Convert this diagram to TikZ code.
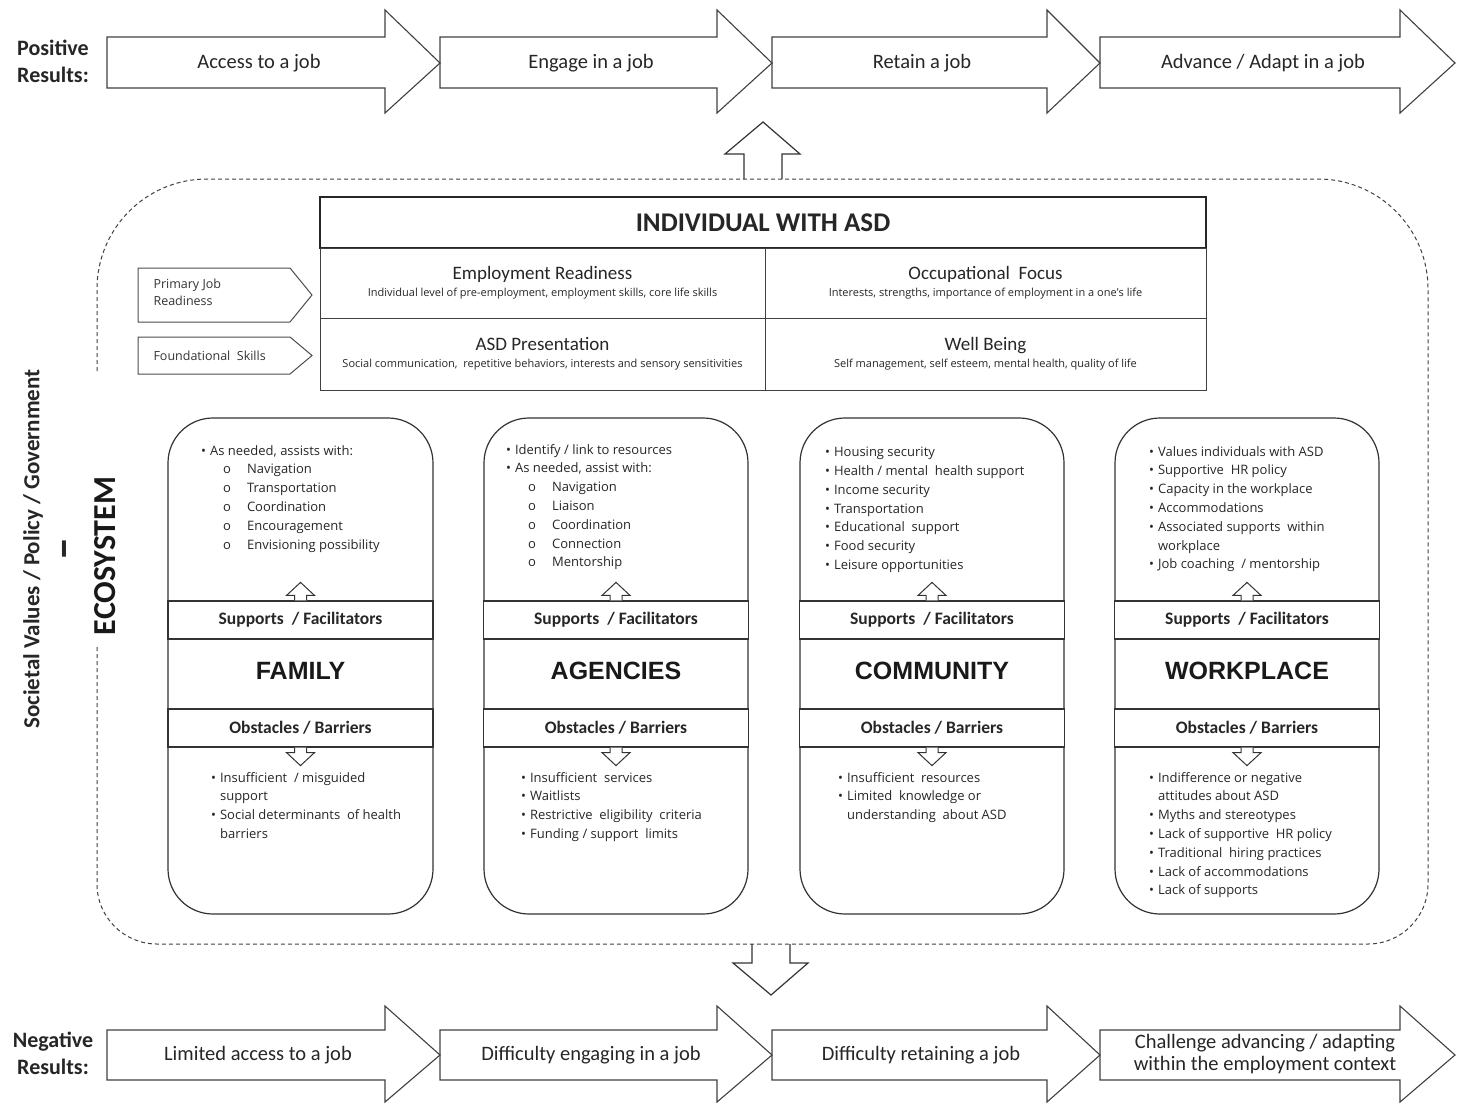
\documentclass[tikz,border=0pt]{standalone}
\usepackage{fontspec}
\setmainfont{Carlito}
\newfontfamily\arialfont{Liberation Sans}
\newfontfamily\smallfont{Open Sans}
\newcommand{\bl}{\textbullet\hspace{4pt}}
\newcommand{\ol}[1]{\hspace*{22pt}o\hspace{16pt}#1}
\newcommand{\hang}{\phantom{\textbullet}\hspace{4pt}}
\begin{document}
\begin{tikzpicture}[x=1pt,y=-1pt,
  resarrow/.style={draw=black!75,line width=1.1pt,line join=miter},
  reslabel/.style={font=\fontsize{20.5}{22}\selectfont,align=center,text=black!85},
  sidelabel/.style={font=\fontsize{22}{27}\selectfont\bfseries,align=center,text=black!85},
  bigarrow/.style={draw=black!80,line width=1.2pt},
  ecoline/.style={draw=black!75,line width=1pt,dash pattern=on 4pt off 3pt},
  cell/.style={draw=black!75,line width=1pt,align=center,inner sep=0pt,font=\fontsize{19}{21}\selectfont,text=black!85},
  skillbox/.style={draw=black!70,line width=1pt},
  skilltext/.style={font=\smallfont\fontsize{12.5}{17}\selectfont,align=left,anchor=west,text=black!80},
  colbox/.style={draw=black!80,line width=1.2pt,rounded corners=45pt},
  band/.style={draw=black!80,line width=1.2pt,fill=white,minimum width=265pt,minimum height=38pt,font=\fontsize{17.5}{19}\selectfont\bfseries,text=black!85},
  groupname/.style={font=\arialfont\fontsize{25}{27}\selectfont\bfseries,text=black!90},
  listtext/.style={font=\smallfont\fontsize{13}{18.8}\selectfont,align=left,anchor=north west,inner sep=0pt,text=black!85},
  tinyarrow/.style={draw=black!80,line width=1pt,fill=white}]
\useasboundingbox (0,0) rectangle (1458,1103);

% positive results
\node[sidelabel] (pos) at (53,61) {Positive\\Results:};
\draw[resarrow] (107,37) -- (385,37) -- (385,10) -- (440,63) -- (385,113) -- (385,88) -- (107,88) -- cycle;
\draw[resarrow] (440,37) -- (717,37) -- (717,10) -- (772,63) -- (717,113) -- (717,88) -- (440,88) -- cycle;
\draw[resarrow] (772,37) -- (1047,37) -- (1047,10) -- (1100,63) -- (1047,113) -- (1047,88) -- (772,88) -- cycle;
\draw[resarrow] (1100,37) -- (1400,37) -- (1400,10) -- (1455,63) -- (1400,113) -- (1400,88) -- (1100,88) -- cycle;
\node[reslabel] (access) at (259,63) {Access to a job};
\node[reslabel] (engage) at (591,63) {Engage in a job};
\node[reslabel] (retain) at (922,63) {Retain a job};
\node[reslabel] (advance) at (1263,63) {Advance / Adapt in a job};

% ecosystem frame
\draw[bigarrow] (744,179) -- (744,154) -- (725,154) -- (763,122) -- (800,154) -- (782,154) -- (782,179);
\draw[ecoline] (97,560) [rounded corners=110pt] -- (97,179) -- (1428,179) -- (1428,600)
  [rounded corners=60pt] -- (1428,944) -- (97,944) -- (97,560);
\draw[bigarrow] (752,944) -- (752,963) -- (733,963) -- (771,995) -- (808,963) -- (790,963) -- (790,944);
\node[rotate=90,font=\fontsize{23}{25}\selectfont\bfseries,text=black!85] (values) at (33,549) {Societal Values / Policy / Government};
\node[rotate=90,font=\fontsize{46}{46}\selectfont\bfseries,text=black!85] (dash) at (70,549) {--};
\node[rotate=90,fill=white,font=\fontsize{32}{34}\selectfont\bfseries,text=black!90,
  text width=250pt,align=left,inner xsep=12pt,inner ysep=3pt] (eco) at (105,510) {ECOSYSTEM};

% individual with ASD
\node[draw=black!85,line width=1.6pt,minimum width=886pt,minimum height=51pt,
  font=\fontsize{27}{29}\selectfont\bfseries,text=black!85] (indiv) at (763,222.5) {INDIVIDUAL WITH ASD};
\node[cell,minimum width=445pt,minimum height=70pt] (ready) at (542.5,283)
  {Employment Readiness\\[-4pt]{\smallfont\fontsize{11}{12}\selectfont Individual level of pre-employment, employment skills, core life skills}};
\node[cell,minimum width=441pt,minimum height=70pt] (focus) at (985.5,283)
  {Occupational\ \ Focus\\[-4pt]{\smallfont\fontsize{11}{12}\selectfont Interests, strengths, importance of employment in a one's life}};
\node[cell,minimum width=445pt,minimum height=72pt] (asd) at (542.5,354)
  {ASD Presentation\\[-4pt]{\smallfont\fontsize{11}{12}\selectfont Social communication,\ \ repetitive behaviors, interests and sensory sensitivities}};
\node[cell,minimum width=441pt,minimum height=72pt] (wellbeing) at (985.5,354)
  {Well Being\\[-4pt]{\smallfont\fontsize{11}{12}\selectfont Self management, self esteem, mental health, quality of life}};
\draw[skillbox] (138,268) -- (290,268) -- (312,295) -- (290,322) -- (138,322) -- cycle;
\node[skilltext] (primary) at (150,292) {Primary Job\\Readiness};
\draw[skillbox] (138,337) -- (290,337) -- (312,355.5) -- (290,374) -- (138,374) -- cycle;
\node[skilltext] (foundation) at (150,355.5) {Foundational\ \ Skills};

% family
\draw[colbox] (168,418) rectangle (433,914);
\node[band] (famsup) at (300.5,620) {Supports\ \ / Facilitators};
\node[groupname] (family) at (300.5,671) {FAMILY};
\node[band] (famobs) at (300.5,728) {Obstacles / Barriers};
\filldraw[tinyarrow] ([xshift=-6pt]famsup.north) -- ++(0,-5) -- ++(-8,0) -- ++(14,-13) -- ++(14,13) -- ++(-8,0) -- ++(0,5);
\filldraw[tinyarrow] ([xshift=-6pt]famobs.south) -- ++(0,5) -- ++(-8,0) -- ++(14,13) -- ++(14,-13) -- ++(-8,0) -- ++(0,-5);
\node[listtext] (famlist) at (201,445) {\bl As needed, assists with:\\\ol{Navigation}\\\ol{Transportation}\\\ol{Coordination}\\\ol{Encouragement}\\\ol{Envisioning possibility}};
\node[listtext] (famneg) at (211,772) {\bl Insufficient\ \ / misguided\\\hang support\\\bl Social determinants\ \ of health\\\hang barriers};

% agencies
\draw[colbox] (484,418) rectangle (748,914);
\node[band] (agesup) at (616,620) {Supports\ \ / Facilitators};
\node[groupname] (agencies) at (616,671) {AGENCIES};
\node[band] (ageobs) at (616,728) {Obstacles / Barriers};
\filldraw[tinyarrow] ([xshift=-6pt]agesup.north) -- ++(0,-5) -- ++(-8,0) -- ++(14,-13) -- ++(14,13) -- ++(-8,0) -- ++(0,5);
\filldraw[tinyarrow] ([xshift=-6pt]ageobs.south) -- ++(0,5) -- ++(-8,0) -- ++(14,13) -- ++(14,-13) -- ++(-8,0) -- ++(0,-5);
\node[listtext] (agelist) at (506,444) {\bl Identify / link to resources\\\bl As needed, assist with:\\\ol{Navigation}\\\ol{Liaison}\\\ol{Coordination}\\\ol{Connection}\\\ol{Mentorship}};
\node[listtext] (ageneg) at (521,772) {\bl Insufficient\ \ services\\\bl Waitlists\\\bl Restrictive\ \ eligibility\ \ criteria\\\bl Funding / support\ \ limits};

% community
\draw[colbox] (800,418) rectangle (1064,914);
\node[band] (comsup) at (932,620) {Supports\ \ / Facilitators};
\node[groupname] (community) at (932,671) {COMMUNITY};
\node[band] (comobs) at (932,728) {Obstacles / Barriers};
\filldraw[tinyarrow] ([xshift=-6pt]comsup.north) -- ++(0,-5) -- ++(-8,0) -- ++(14,-13) -- ++(14,13) -- ++(-8,0) -- ++(0,5);
\filldraw[tinyarrow] ([xshift=-6pt]comobs.south) -- ++(0,5) -- ++(-8,0) -- ++(14,13) -- ++(14,-13) -- ++(-8,0) -- ++(0,-5);
\node[listtext] (comlist) at (825,447) {\bl Housing security\\\bl Health / mental\ \ health support\\\bl Income security\\\bl Transportation\\\bl Educational\ \ support\\\bl Food security\\\bl Leisure opportunities};
\node[listtext] (comneg) at (838,772) {\bl Insufficient\ \ resources\\\bl Limited\ \ knowledge or\\\hang understanding\ \ about ASD};

% workplace
\draw[colbox] (1115,418) rectangle (1379,914);
\node[band] (worsup) at (1247,620) {Supports\ \ / Facilitators};
\node[groupname] (workplace) at (1247,671) {WORKPLACE};
\node[band] (worobs) at (1247,728) {Obstacles / Barriers};
\filldraw[tinyarrow] ([xshift=-6pt]worsup.north) -- ++(0,-5) -- ++(-8,0) -- ++(14,-13) -- ++(14,13) -- ++(-8,0) -- ++(0,5);
\filldraw[tinyarrow] ([xshift=-6pt]worobs.south) -- ++(0,5) -- ++(-8,0) -- ++(14,13) -- ++(14,-13) -- ++(-8,0) -- ++(0,-5);
\node[listtext] (worlist) at (1149,446) {\bl Values individuals with ASD\\\bl Supportive\ \ HR policy\\\bl Capacity in the workplace\\\bl Accommodations\\\bl Associated supports\ \ within\\\hang workplace\\\bl Job coaching\ \ / mentorship};
\node[listtext] (worneg) at (1149,772) {\bl Indifference or negative\\\hang attitudes about ASD\\\bl Myths and stereotypes\\\bl Lack of supportive\ \ HR policy\\\bl Traditional\ \ hiring practices\\\bl Lack of accommodations\\\bl Lack of supports};

% negative results
\node[sidelabel] (neg) at (53,1053) {Negative\\Results:};
\draw[resarrow] (107,1030) -- (385,1030) -- (385,1006) -- (440,1055) -- (385,1102) -- (385,1080) -- (107,1080) -- cycle;
\draw[resarrow] (440,1030) -- (717,1030) -- (717,1006) -- (772,1055) -- (717,1102) -- (717,1080) -- (440,1080) -- cycle;
\draw[resarrow] (772,1030) -- (1047,1030) -- (1047,1006) -- (1100,1055) -- (1047,1102) -- (1047,1080) -- (772,1080) -- cycle;
\draw[resarrow] (1100,1030) -- (1400,1030) -- (1400,1006) -- (1455,1055) -- (1400,1102) -- (1400,1080) -- (1100,1080) -- cycle;
\node[reslabel] (limited) at (258,1055) {Limited access to a job};
\node[reslabel] (engaging) at (591,1055) {Difficulty engaging in a job};
\node[reslabel] (retaining) at (921,1055) {Difficulty retaining a job};
\node[reslabel] (challenge) at (1265,1054) {Challenge advancing / adapting\\within the employment context};
\end{tikzpicture}
\end{document}
